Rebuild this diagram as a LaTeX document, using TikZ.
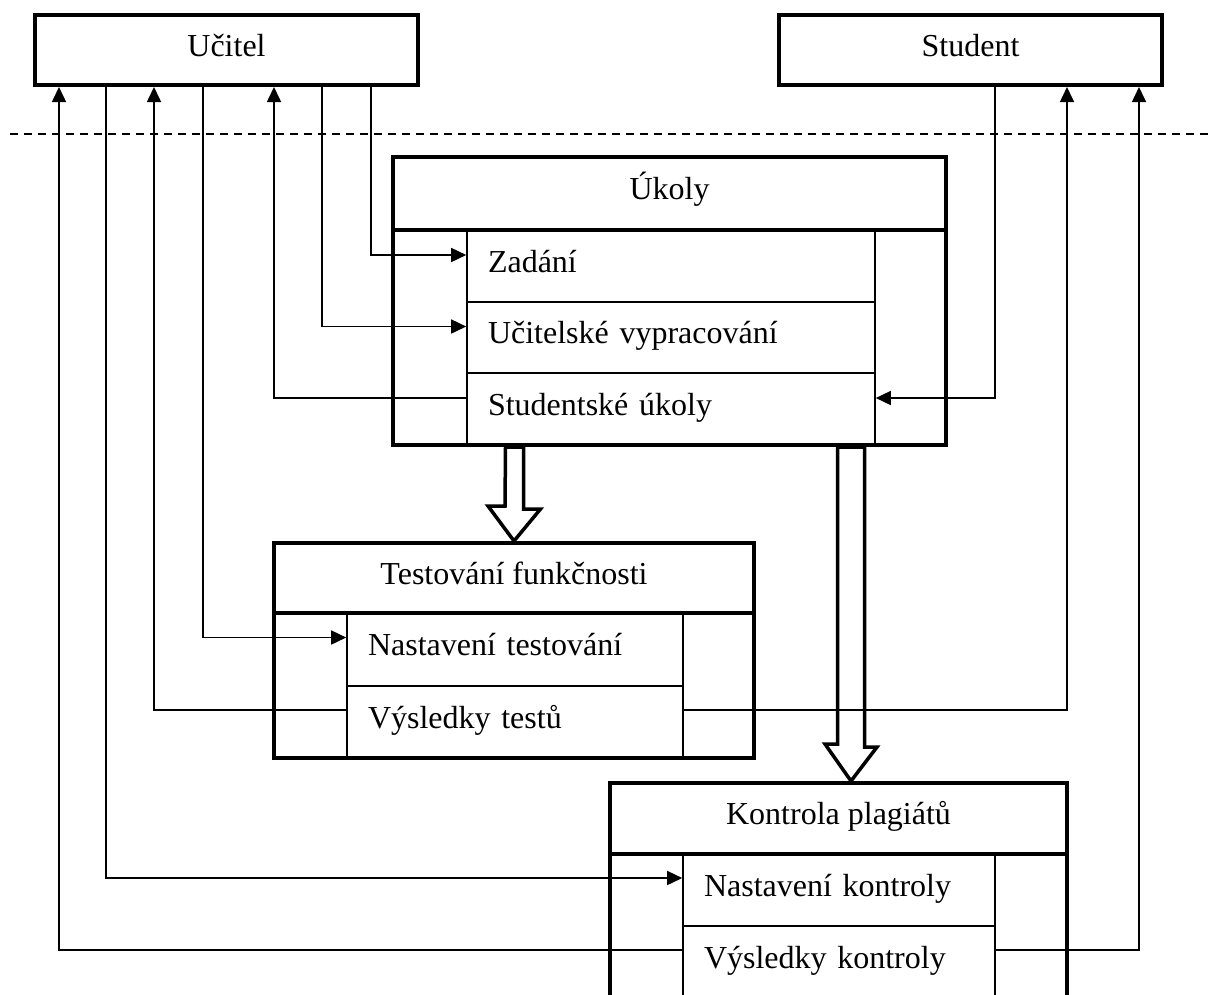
\documentclass[tikz,border=0pt]{standalone}
\usepackage{fontspec}
\setmainfont{Liberation Serif}
\usetikzlibrary{arrows.meta,calc}
\tikzset{
  thin line/.style={line width=1.6pt},
  thick line/.style={line width=4pt},
  actor/.style={draw, thick line, rectangle, inner sep=0pt, text height=20pt, text depth=8pt, align=center},
  outerbox/.style={draw, thick line, rectangle, inner sep=0pt},
  headbox/.style={draw, thick line, rectangle, inner sep=0pt, text height=20pt, text depth=8pt, align=center},
  rowbox/.style={draw, thin line, rectangle, inner xsep=21pt, inner ysep=0pt, text height=20pt, text depth=8pt, align=left},
  arr/.style={thin line, -{Triangle[length=15pt,width=14pt]}},
  link/.style={thin line},
  hollow/.style={draw, line width=3.5pt, fill=white, line join=miter},
  dashsep/.style={line width=1.8pt, dash pattern=on 8pt off 6pt}
}
\begin{document}
\begin{tikzpicture}[x=1pt,y=-1pt,font=\fontsize{32}{38}\selectfont]
\useasboundingbox (0,0) rectangle (1209,994);
% column coordinates
\coordinate (c59) at (59,0);
\coordinate (c106) at (106,0);
\coordinate (c154) at (154,0);
\coordinate (c203) at (203,0);
\coordinate (c274) at (274,0);
\coordinate (c322) at (322,0);
\coordinate (c371) at (371,0);
\coordinate (c995) at (995,0);
\coordinate (c1067) at (1067,0);
\coordinate (c1139) at (1139,0);
\coordinate (a2) at (851,0);
\coordinate (dl) at (10,134);
\coordinate (dr) at (1209,134);

% actors
\node[actor, minimum width=383pt, minimum height=70pt] (ucitel) at (226.5,50) {Učitel};
\node[actor, minimum width=383pt, minimum height=70pt] (student) at (970.5,50) {Student};

% separator
\draw[dashsep] (dl) -- (dr);

% Ukoly
\node[rowbox, minimum width=408pt, text width=366pt, minimum height=72pt] (zad) at (671,266) {Zadání};
\node[rowbox, minimum width=408pt, text width=366pt, minimum height=71pt] (uv) at (671,337.5) {Učitelské vypracování};
\node[rowbox, minimum width=408pt, text width=366pt, minimum height=72pt] (su) at (671,409) {Studentské úkoly};
\node[outerbox, minimum width=553pt, minimum height=288pt] (ukoly) at (669.5,301) {};
\node[headbox, minimum width=553pt, minimum height=73pt] (ukolyH) at (669.5,193.5) {Úkoly};

% Testovani
\node[rowbox, minimum width=336pt, text width=294pt, minimum height=73pt] (nt) at (515,649.5) {Nastavení testování};
\node[rowbox, minimum width=336pt, text width=294pt, minimum height=72pt] (vt) at (515,722) {Výsledky testů};
\node[outerbox, minimum width=480pt, minimum height=215pt] (test) at (514,650.5) {};
\node[headbox, minimum width=480pt, minimum height=70pt] (testH) at (514,578) {Testování funkčnosti};

% Kontrola
\node[rowbox, minimum width=312pt, text width=270pt, minimum height=72pt] (nk) at (839,890) {Nastavení kontroly};
\node[rowbox, minimum width=312pt, text width=270pt, minimum height=72pt] (vk) at (839,962) {Výsledky kontroly};
\node[outerbox, minimum width=457pt, minimum height=215pt] (kontr) at (838.5,890.5) {};
\node[headbox, minimum width=457pt, minimum height=71pt] (kontrH) at (838.5,818.5) {Kontrola plagiátů};

% hollow arrows
\draw[hollow] (testH.north) -- ++(-26,-35) -- ++(17,0) -- (ukoly.south -| 505.5,0) -- ++(18,0) -- ++(0,62) -- ++(17,0) -- cycle;
\draw[hollow] (a2 |- kontrH.north) -- ++(-26,-37) -- ++(12.5,0) -- ($(a2 |- ukoly.south)+(-13.5,0)$) -- ++(27,0) -- ++(0,300) -- ++(12.5,0) -- cycle;

% connectors
\draw[arr] ([yshift=12pt]vk.west) -| (c59 |- ucitel.south);
\draw[arr] (c106 |- ucitel.south) |- ([yshift=12pt]nk.west);
\draw[arr] ([yshift=12pt]vt.west) -| (c154 |- ucitel.south);
\draw[arr] (c203 |- ucitel.south) |- ([yshift=12pt]nt.west);
\draw[arr] ([yshift=11pt]su.west) -| (c274 |- ucitel.south);
\draw[arr] (c322 |- ucitel.south) |- ([yshift=11pt]uv.west);
\draw[arr] (c371 |- ucitel.south) |- ([yshift=11pt]zad.west);
\draw[arr] (c995 |- student.south) |- ([yshift=11pt]su.east);
\draw[arr] ([yshift=12pt]vt.east) -| (c1067 |- student.south);
\draw[arr] ([yshift=12pt]vk.east) -| (c1139 |- student.south);
\end{tikzpicture}
\end{document}
